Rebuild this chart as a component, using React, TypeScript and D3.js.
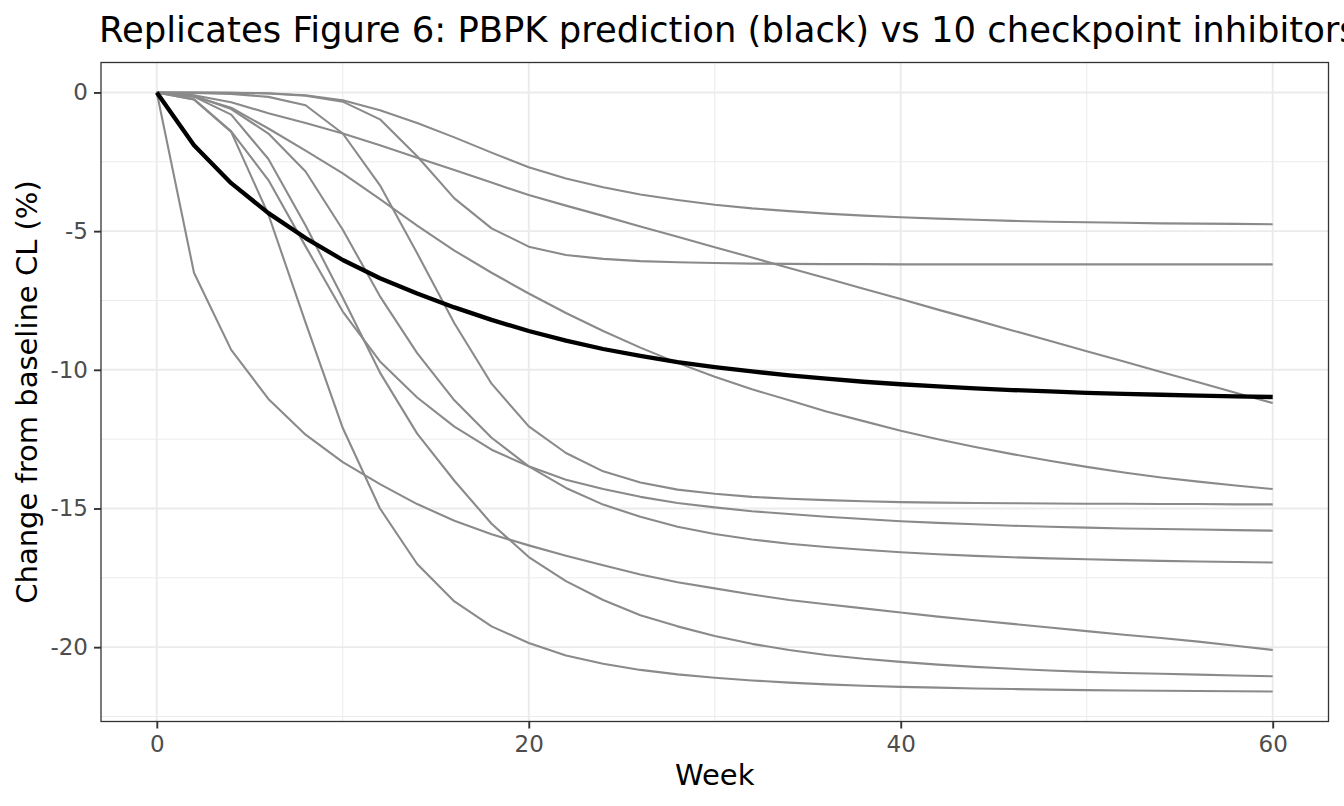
import * as d3 from "d3";
import { useEffect, useRef } from "react";

// weeks sampled every 2 weeks
const weeks = [
  0, 2, 4, 6, 8, 10, 12, 14, 16, 18, 20, 22, 24, 26, 28, 30, 32, 34, 36, 38, 40,
  42, 44, 46, 48, 50, 52, 54, 56, 58, 60,
];

// PBPK prediction (black)
const pbpkPrediction = [
  0, -1.9, -3.27, -4.35, -5.25, -6.04, -6.7, -7.25, -7.75, -8.2, -8.6, -8.95,
  -9.25, -9.5, -9.72, -9.9, -10.06, -10.2, -10.32, -10.43, -10.52, -10.6,
  -10.67, -10.73, -10.78, -10.83, -10.87, -10.9, -10.93, -10.96, -10.98,
];

// 10 checkpoint inhibitors (grey)
const inhibitor1 = [
  0, 0, -0.01, -0.03, -0.1, -0.28, -0.64, -1.1, -1.62, -2.17, -2.7, -3.1, -3.42,
  -3.68, -3.88, -4.05, -4.18, -4.28, -4.37, -4.44, -4.5, -4.55, -4.59, -4.63,
  -4.66, -4.68, -4.7, -4.72, -4.73, -4.74, -4.75,
];
const inhibitor2 = [
  0, 0, -0.01, -0.04, -0.12, -0.33, -0.97, -2.3, -3.82, -4.9, -5.56, -5.86,
  -6.0, -6.08, -6.12, -6.15, -6.17, -6.18, -6.19, -6.19, -6.2, -6.2, -6.2, -6.2,
  -6.2, -6.2, -6.2, -6.2, -6.2, -6.2, -6.2,
];
const inhibitor3 = [
  0, -0.1, -0.35, -0.75, -1.1, -1.48, -1.9, -2.35, -2.8, -3.25, -3.7, -4.08,
  -4.45, -4.83, -5.2, -5.58, -5.95, -6.33, -6.7, -7.08, -7.45, -7.83, -8.2,
  -8.58, -8.95, -9.33, -9.7, -10.08, -10.45, -10.83, -11.2,
];
const inhibitor4 = [
  0, -0.15, -0.55, -1.3, -2.1, -2.92, -3.85, -4.8, -5.7, -6.5, -7.25, -7.95,
  -8.6, -9.2, -9.75, -10.25, -10.7, -11.1, -11.5, -11.85, -12.2, -12.5, -12.78,
  -13.04, -13.28, -13.5, -13.7, -13.88, -14.03, -14.17, -14.3,
];
const inhibitor5 = [
  0, -0.02, -0.05, -0.16, -0.46, -1.48, -3.35, -5.8, -8.32, -10.5, -12.04, -13.0,
  -13.66, -14.06, -14.32, -14.47, -14.58, -14.65, -14.7, -14.74, -14.77, -14.79,
  -14.8, -14.81, -14.82, -14.83, -14.83, -14.84, -14.84, -14.85, -14.85,
];
const inhibitor6 = [
  0, -0.25, -1.4, -3.16, -5.55, -7.9, -9.7, -11.0, -12.05, -12.88, -13.48,
  -13.96, -14.3, -14.58, -14.8, -14.96, -15.1, -15.2, -15.3, -15.38, -15.46,
  -15.52, -15.57, -15.62, -15.66, -15.69, -15.72, -15.74, -15.76, -15.78, -15.8,
];
const inhibitor7 = [
  0, -0.12, -0.6, -1.48, -2.85, -4.95, -7.35, -9.4, -11.1, -12.45, -13.48,
  -14.26, -14.86, -15.3, -15.66, -15.92, -16.12, -16.27, -16.39, -16.49, -16.58,
  -16.65, -16.71, -16.76, -16.8, -16.83, -16.86, -16.89, -16.91, -16.93, -16.95,
];
const inhibitor8 = [
  0, -6.5, -9.28, -11.05, -12.34, -13.33, -14.12, -14.84, -15.44, -15.93,
  -16.33, -16.7, -17.05, -17.38, -17.66, -17.88, -18.1, -18.3, -18.45, -18.6,
  -18.75, -18.9, -19.03, -19.16, -19.29, -19.42, -19.55, -19.67, -19.8, -19.95,
  -20.1,
];
const inhibitor9 = [
  0, -0.15, -0.8, -2.4, -4.8, -7.4, -10.1, -12.3, -14.0, -15.55, -16.75, -17.62,
  -18.3, -18.85, -19.25, -19.6, -19.88, -20.1, -20.28, -20.42, -20.53, -20.63,
  -20.71, -20.78, -20.84, -20.89, -20.93, -20.96, -20.99, -21.02, -21.05,
];
const inhibitor10 = [
  0, -0.25, -1.42, -4.4, -8.3, -12.1, -15.0, -17.0, -18.35, -19.25, -19.85,
  -20.3, -20.6, -20.82, -20.98, -21.1, -21.2, -21.28, -21.34, -21.39, -21.43,
  -21.46, -21.49, -21.51, -21.53, -21.55, -21.56, -21.57, -21.58, -21.59, -21.6,
];

const inhibitors = [
  inhibitor1, inhibitor2, inhibitor3, inhibitor4, inhibitor5,
  inhibitor6, inhibitor7, inhibitor8, inhibitor9, inhibitor10,
];

const xTicks = [0, 20, 40, 60];
const xMinor = [10, 30, 50];
const yTicks = [0, -5, -10, -15, -20];
const yMinor = [-2.5, -7.5, -12.5, -17.5, -22.5];

const title =
  "Replicates Figure 6: PBPK prediction (black) vs 10 checkpoint inhibitors";
const xLabel = "Week";
const yLabel = "Change from baseline CL (%)";

export default function App() {
  const svgRef = useRef<SVGSVGElement | null>(null);

  useEffect(() => {
    if (!svgRef.current) return;
    document.body.style.margin = "0";

    const svg = d3.select(svgRef.current);
    const width = 1344;
    const height = 806;
    const panel = { left: 101, right: 1328.5, top: 62.5, bottom: 721.5 };
    const font = "'DejaVu Sans', sans-serif";

    svg.selectAll("*").remove();
    svg.attr("width", width).attr("height", height);

    // ggplot-style 5% expansion
    const allVals = [...pbpkPrediction, ...inhibitors.flat()];
    const [yMin, yMax] = d3.extent(allVals) as [number, number];
    const yPad = (yMax - yMin) * 0.05;
    const xPad = (d3.max(weeks)! - d3.min(weeks)!) * 0.05;

    const x = d3
      .scaleLinear()
      .domain([d3.min(weeks)! - xPad, d3.max(weeks)! + xPad])
      .range([panel.left, panel.right]);

    const y = d3
      .scaleLinear()
      .domain([yMin - yPad, yMax + yPad])
      .range([panel.bottom, panel.top]);

    svg.append("rect").attr("width", width).attr("height", height).attr("fill", "#fff");

    const grid = svg.append("g");
    grid
      .selectAll("line.xminor")
      .data(xMinor)
      .join("line")
      .attr("x1", (d) => x(d))
      .attr("x2", (d) => x(d))
      .attr("y1", panel.top)
      .attr("y2", panel.bottom)
      .attr("stroke", "#ebebeb")
      .attr("stroke-width", 1);
    grid
      .selectAll("line.yminor")
      .data(yMinor)
      .join("line")
      .attr("x1", panel.left)
      .attr("x2", panel.right)
      .attr("y1", (d) => y(d))
      .attr("y2", (d) => y(d))
      .attr("stroke", "#ebebeb")
      .attr("stroke-width", 1);
    grid
      .selectAll("line.xmajor")
      .data(xTicks)
      .join("line")
      .attr("x1", (d) => x(d))
      .attr("x2", (d) => x(d))
      .attr("y1", panel.top)
      .attr("y2", panel.bottom)
      .attr("stroke", "#ebebeb")
      .attr("stroke-width", 1.9);
    grid
      .selectAll("line.ymajor")
      .data(yTicks)
      .join("line")
      .attr("x1", panel.left)
      .attr("x2", panel.right)
      .attr("y1", (d) => y(d))
      .attr("y2", (d) => y(d))
      .attr("stroke", "#ebebeb")
      .attr("stroke-width", 1.9);

    const line = d3
      .line<number>()
      .x((_, i) => x(weeks[i]))
      .y((d) => y(d));

    svg
      .append("g")
      .selectAll("path")
      .data(inhibitors)
      .join("path")
      .attr("fill", "none")
      .attr("stroke", "#8a8a8a")
      .attr("stroke-width", 2.1)
      .attr("stroke-linejoin", "round")
      .attr("d", (d) => line(d));

    svg
      .append("path")
      .datum(pbpkPrediction)
      .attr("fill", "none")
      .attr("stroke", "#000")
      .attr("stroke-width", 4.3)
      .attr("stroke-linejoin", "round")
      .attr("d", line);

    svg
      .append("rect")
      .attr("x", panel.left)
      .attr("y", panel.top)
      .attr("width", panel.right - panel.left)
      .attr("height", panel.bottom - panel.top)
      .attr("fill", "none")
      .attr("stroke", "#333")
      .attr("stroke-width", 1.3);

    // axes
    const xAxis = d3
      .axisBottom(x)
      .tickValues(xTicks)
      .tickSize(7)
      .tickPadding(6)
      .tickFormat(d3.format("d"));
    const yAxis = d3
      .axisLeft(y)
      .tickValues(yTicks)
      .tickSize(7)
      .tickPadding(6)
      .tickFormat((d) => String(d));

    const xAxisGroup = svg
      .append("g")
      .attr("transform", `translate(0,${panel.bottom})`)
      .call(xAxis as any);
    const yAxisGroup = svg
      .append("g")
      .attr("transform", `translate(${panel.left},0)`)
      .call(yAxis as any);

    for (const g of [xAxisGroup, yAxisGroup]) {
      g.select(".domain").remove();
      g.selectAll("line").attr("stroke", "#333").attr("stroke-width", 1.9);
      g.selectAll("text")
        .attr("fill", "#4d4d4d")
        .attr("font-size", 23)
        .attr("font-family", font);
    }
    xAxisGroup.selectAll("text").attr("dy", "0.75em");

    svg
      .append("text")
      .attr("x", 99)
      .attr("y", 41.5)
      .attr("font-family", font)
      .attr("font-size", 35.4)
      .attr("fill", "#000")
      .text(title);

    svg
      .append("text")
      .attr("x", (panel.left + panel.right) / 2)
      .attr("y", 785)
      .attr("text-anchor", "middle")
      .attr("font-family", font)
      .attr("font-size", 29)
      .attr("fill", "#000")
      .text(xLabel);

    svg
      .append("text")
      .attr("transform", `translate(37,${(panel.top + panel.bottom) / 2}) rotate(-90)`)
      .attr("text-anchor", "middle")
      .attr("font-family", font)
      .attr("font-size", 29)
      .attr("fill", "#000")
      .text(yLabel);
  }, []);

  return <svg ref={svgRef} style={{ display: "block" }} aria-label="PBPK chart" />;
}
